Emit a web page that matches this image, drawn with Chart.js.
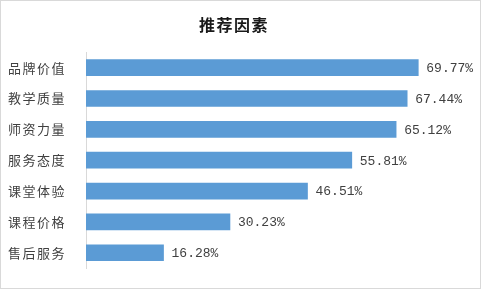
<!DOCTYPE html>
<html>
<head>
<meta charset="utf-8">
<script src="https://cdn.jsdelivr.net/npm/chart.js@4/dist/chart.umd.min.js"></script>
<style>
    body{margin:0;background:#fff;}
    #wrap{width:481px;height:289px;box-sizing:border-box;border:1px solid #d9d9d9;}
    canvas{display:block;}
</style>
</head>
<body>
<div id="wrap"><canvas id="factor_chart" width="479" height="287"></canvas></div>
<script>
// 카테고리 / 값
const categories = ["品牌价值", "教学质量", "师资力量", "服务态度", "课堂体验", "课程价格", "售后服务"];
const values = [69.77, 67.44, 65.12, 55.81, 46.51, 30.23, 16.28];
const xMax = 80;

// 막대 끝에 퍼센트 표시
const valueLabels = {
    id:"valueLabels",
    afterDatasetsDraw(chart){
        let ctx = chart.ctx;
        let meta = chart.getDatasetMeta(0);
        ctx.save();
        ctx.letterSpacing = "0px";
        ctx.font = "13px 'Liberation Mono', monospace";
        ctx.fillStyle = "#404040";
        ctx.textAlign = "left";
        ctx.textBaseline = "middle";
        meta.data.forEach(function(bar, i){
            ctx.fillText(values[i].toFixed(2) + "%", bar.x + 8, bar.y + 1);
        });
        ctx.restore();
    }
};

const spacing = {
    id:"spacing",
    beforeDraw(chart){
        chart.ctx.letterSpacing = "1.5px";
    }
};

let ctx1 = document.getElementById("factor_chart");
let factor_chart = new Chart(ctx1, {
    type:"bar",
    plugins:[spacing, valueLabels],
    data:{
        labels:categories,
        datasets:[
            {
                label:"推荐因素",
                data:values,
                backgroundColor:"#5B9BD5",
                barThickness:16
            }
        ]
    },
    options:{
        responsive:false,
        animation:false,
        indexAxis:"y",
        layout:{padding:{top:0, right:13, bottom:14, left:0}},
        plugins:{
            legend:{display:false},
            tooltip:{enabled:false},
            title:{
                display:true,
                text:"推荐因素",
                color:"#1a1a1a",
                font:{family:"'Noto Sans CJK SC'", size:16, weight:"bold"},
                padding:{top:14, bottom:18}
            }
        },
        scales:{
            x:{
                display:false,
                min:0,
                max:xMax
            },
            y:{
                grid:{display:false},
                border:{display:true, color:"#d9d9d9", width:1},
                ticks:{
                    color:"#404040",
                    padding:12,
                    font:{family:"'Noto Sans CJK SC'", size:13}
                },
                afterFit(scale){
                    scale.width = 85;
                }
            }
        }
    }
});
</script>
</body>
</html>
